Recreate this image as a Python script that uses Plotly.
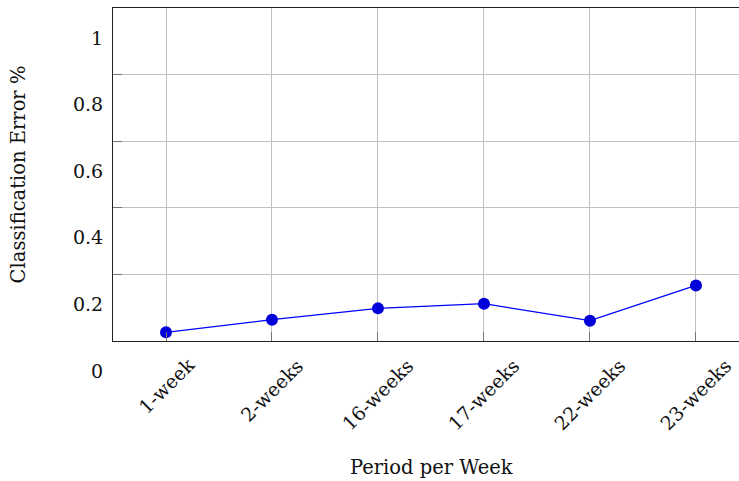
import plotly.graph_objects as go

categories = ["1-week", "2-weeks", "16-weeks", "17-weeks", "22-weeks", "23-weeks"]
error_values = [0.026, 0.064, 0.098, 0.112, 0.061, 0.167]
y_tick_values = [0, 0.2, 0.4, 0.6, 0.8, 1]
y_tick_labels = ["0", "0.2", "0.4", "0.6", "0.8", "1"]

FONT = "DejaVu Serif"
FS = 19

x_pos = list(range(len(categories)))

fig = go.Figure()
fig.add_trace(go.Scatter(
    x=x_pos,
    y=error_values,
    mode="lines+markers",
    line=dict(color="#0000ff", width=1.2),
    marker=dict(color="#0000d8", size=12),
    showlegend=False,
    cliponaxis=False,
))

# rotated category labels, centred under each tick
for xi, lab in zip(x_pos, categories):
    fig.add_annotation(
        x=xi, y=0, xref="x", yref="paper",
        text=lab, showarrow=False, textangle=-45,
        xanchor="center", yanchor="top", yshift=-10,
        font=dict(family=FONT, size=FS, color="#111"),
    )

fig.add_annotation(
    x=0.508, y=0, xref="paper", yref="paper",
    text="Period per Week", showarrow=False,
    xanchor="center", yanchor="middle", yshift=-126,
    font=dict(family=FONT, size=19.5, color="#111"),
)

fig.update_layout(
    width=739, height=481,
    margin=dict(l=113, r=0, t=8, b=140),
    paper_bgcolor="white",
    plot_bgcolor="white",
    font=dict(family=FONT, size=FS, color="#111"),
    xaxis=dict(
        range=[-0.5, 5.406],
        automargin=False,
        tickmode="array",
        tickvals=x_pos,
        showticklabels=False,
        showgrid=True, gridcolor="#c0c0c0", gridwidth=1,
        ticks="inside", ticklen=9, tickcolor="#777",
        showline=True, linecolor="#222", linewidth=1.2, mirror=True,
        zeroline=False,
    ),
    yaxis=dict(
        range=[0, 1],
        automargin=False,
        tickmode="array",
        tickvals=y_tick_values,
        ticktext=y_tick_labels,
        ticklabelshift=30,
        ticklabelstandoff=5,
        showgrid=True, gridcolor="#c0c0c0", gridwidth=1,
        ticks="inside", ticklen=9, tickcolor="#777",
        showline=True, linecolor="#222", linewidth=1.2, mirror=False,
        zeroline=False,
        tickfont=dict(family=FONT, size=FS),
        title=dict(text="Classification Error %", font=dict(family=FONT, size=19.5), standoff=42),
    ),
)

post = (
    "document.body.style.margin='0';"
    "document.body.style.overflow='hidden';"
    "var gd=document.getElementById('{plot_id}');"
    "Plotly.relayout(gd,{width:739,height:481});"
)
fig.write_html("out.html", post_script=post, config={"displayModeBar": False})
